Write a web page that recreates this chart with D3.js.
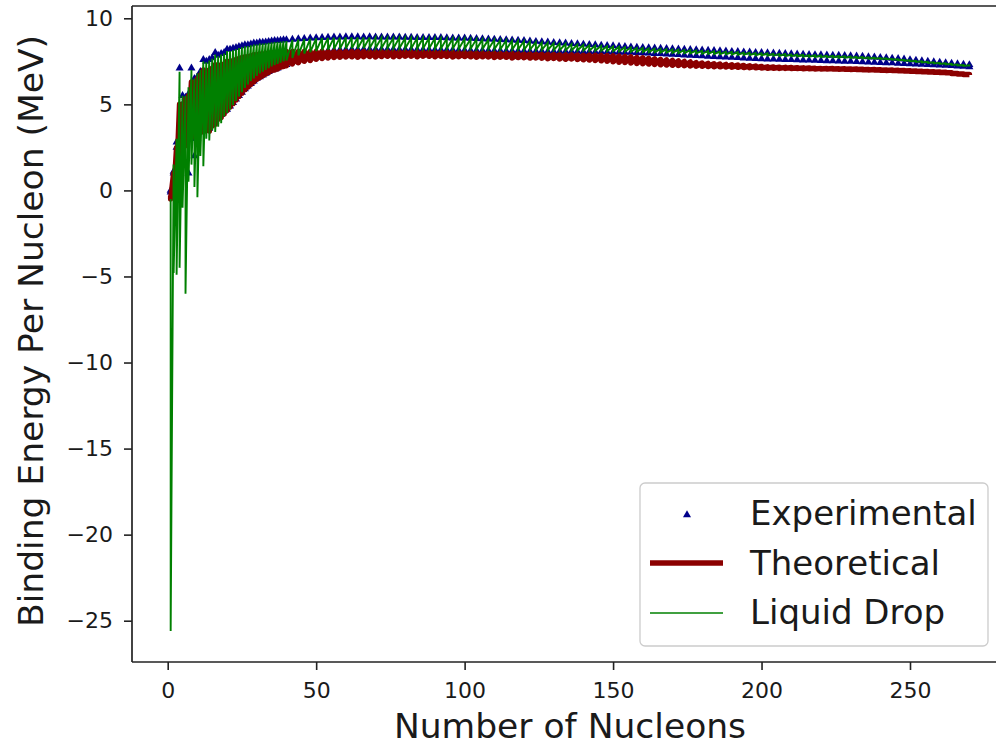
<!DOCTYPE html>
<html>
<head>
<meta charset="utf-8">
<script src="https://cdn.jsdelivr.net/npm/d3@7"></script>
<style>
  body { margin: 0; background: #ffffff; }
  svg { display: block; }
  text { font-family: "DejaVu Sans", sans-serif; fill: #1a1a1a; }
</style>
</head>
<body>
<div id="chart"></div>
<script>
// mass number A: every nucleon up to 40, then every second one
var massNumbers = [
  1, 2, 3, 4, 5, 6, 7, 8, 9, 10,
  11, 12, 13, 14, 15, 16, 17, 18, 19, 20,
  21, 22, 23, 24, 25, 26, 27, 28, 29, 30,
  31, 32, 33, 34, 35, 36, 37, 38, 39, 40,
  42, 44, 46, 48, 50, 52, 54, 56, 58, 60,
  62, 64, 66, 68, 70, 72, 74, 76, 78, 80,
  82, 84, 86, 88, 90, 92, 94, 96, 98, 100,
  102, 104, 106, 108, 110, 112, 114, 116, 118, 120,
  122, 124, 126, 128, 130, 132, 134, 136, 138, 140,
  142, 144, 146, 148, 150, 152, 154, 156, 158, 160,
  162, 164, 166, 168, 170, 172, 174, 176, 178, 180,
  182, 184, 186, 188, 190, 192, 194, 196, 198, 200,
  202, 204, 206, 208, 210, 212, 214, 216, 218, 220,
  222, 224, 226, 228, 230, 232, 234, 236, 238, 240,
  242, 244, 246, 248, 250, 252, 254, 256, 258, 260,
  262, 264, 266, 268, 270
];

// experimental BE/A (MeV), upper and lower edge of the nuclides at each A
var expHigh = [
  0.0, 1.1, 2.8, 7.1, 5.5, 5.4, 5.6, 7.1, 6.5, 6.6,
  6.9, 7.6, 7.5, 7.6, 7.7, 8.0, 7.85, 7.95, 8.0, 8.2,
  8.2, 8.25, 8.3, 8.35, 8.4, 8.45, 8.45, 8.5, 8.55, 8.55,
  8.6, 8.6, 8.62, 8.65, 8.67, 8.7, 8.7, 8.72, 8.74, 8.75,
  8.77, 8.8, 8.82, 8.84, 8.86, 8.88, 8.89, 8.9, 8.91, 8.92,
  8.92, 8.92, 8.91, 8.92, 8.91, 8.91, 8.9, 8.9, 8.9, 8.89,
  8.89, 8.88, 8.88, 8.88, 8.87, 8.87, 8.86, 8.85, 8.85, 8.84,
  8.83, 8.82, 8.8, 8.79, 8.78, 8.76, 8.75, 8.73, 8.72, 8.7,
  8.67, 8.65, 8.63, 8.61, 8.59, 8.57, 8.55, 8.53, 8.51, 8.49,
  8.47, 8.45, 8.43, 8.41, 8.39, 8.37, 8.35, 8.33, 8.31, 8.3,
  8.28, 8.27, 8.25, 8.24, 8.22, 8.21, 8.19, 8.18, 8.16, 8.15,
  8.13, 8.12, 8.1, 8.09, 8.07, 8.06, 8.04, 8.03, 8.01, 8.0,
  7.99, 7.97, 7.96, 7.95, 7.93, 7.92, 7.91, 7.89, 7.88, 7.87,
  7.86, 7.85, 7.84, 7.83, 7.81, 7.8, 7.78, 7.76, 7.74, 7.72,
  7.7, 7.67, 7.65, 7.62, 7.59, 7.56, 7.53, 7.5, 7.47, 7.44,
  7.41, 7.38, 7.35, 7.32, 7.3
];
var expLow = [
  -0.1, 1.0, 2.5, 1.5, 5.0, 3.5, 1.0, 3.0, 2.0, 3.0,
  3.8, 3.6, 3.8, 3.6, 3.9, 4.0, 4.3, 4.4, 4.6, 4.7,
  4.9, 5.1, 5.3, 5.5, 5.7, 5.9, 6.05, 6.2, 6.35, 6.5,
  6.6, 6.7, 6.8, 6.9, 7.0, 7.05, 7.1, 7.2, 7.25, 7.3,
  7.5, 7.65, 7.8, 7.9, 8.0, 8.08, 8.12, 8.15, 8.17, 8.18,
  8.19, 8.19, 8.2, 8.2, 8.2, 8.2, 8.2, 8.2, 8.19, 8.19,
  8.19, 8.18, 8.18, 8.18, 8.17, 8.17, 8.16, 8.16, 8.15, 8.15,
  8.14, 8.14, 8.13, 8.13, 8.12, 8.12, 8.11, 8.11, 8.1, 8.1,
  8.09, 8.09, 8.09, 8.08, 8.08, 8.08, 8.07, 8.07, 8.07, 8.06,
  8.06, 8.05, 8.05, 8.04, 8.03, 8.03, 8.02, 8.01, 8.0, 7.99,
  7.97, 7.95, 7.94, 7.92, 7.9, 7.88, 7.86, 7.84, 7.83, 7.81,
  7.79, 7.77, 7.76, 7.74, 7.72, 7.71, 7.69, 7.67, 7.66, 7.64,
  7.63, 7.62, 7.61, 7.6, 7.59, 7.58, 7.57, 7.56, 7.55, 7.54,
  7.53, 7.52, 7.51, 7.5, 7.49, 7.48, 7.46, 7.45, 7.44, 7.42,
  7.41, 7.4, 7.38, 7.37, 7.35, 7.34, 7.32, 7.31, 7.29, 7.27,
  7.26, 7.24, 7.22, 7.2, 7.18
];

// theoretical (semi-empirical with corrections)
var theoHigh = [
  -0.3, 1.0, 2.5, 5.0, 5.0, 5.3, 5.5, 6.3, 6.2, 6.5,
  6.7, 7.0, 6.9, 7.0, 7.1, 7.3, 7.2, 7.3, 7.35, 7.5,
  7.5, 7.55, 7.6, 7.67, 7.72, 7.77, 7.78, 7.83, 7.88, 7.88,
  7.93, 7.93, 7.95, 7.98, 8.0, 8.03, 8.03, 8.05, 8.07, 8.08,
  8.08, 8.08, 8.08, 8.07, 8.07, 8.07, 8.06, 8.06, 8.06, 8.06,
  8.06, 8.06, 8.06, 8.05, 8.05, 8.05, 8.05, 8.04, 8.04, 8.04,
  8.03, 8.03, 8.02, 8.02, 8.01, 8.01, 8.0, 8.0, 7.99, 7.99,
  7.98, 7.98, 7.97, 7.96, 7.96, 7.95, 7.94, 7.94, 7.93, 7.92,
  7.92, 7.91, 7.9, 7.9, 7.89, 7.88, 7.87, 7.87, 7.86, 7.85,
  7.86, 7.85, 7.84, 7.83, 7.82, 7.8, 7.78, 7.76, 7.73, 7.7,
  7.67, 7.64, 7.61, 7.58, 7.55, 7.52, 7.49, 7.46, 7.43, 7.4,
  7.38, 7.36, 7.34, 7.32, 7.3, 7.28, 7.26, 7.24, 7.22, 7.2,
  7.18, 7.17, 7.16, 7.15, 7.14, 7.13, 7.12, 7.11, 7.1, 7.09,
  7.08, 7.08, 7.07, 7.07, 7.06, 7.05, 7.04, 7.03, 7.02, 7.01,
  7.0, 6.99, 6.98, 6.97, 6.95, 6.94, 6.93, 6.91, 6.9, 6.88,
  6.86, 6.83, 6.8, 6.77, 6.74
];
var theoLow = [
  -0.5, -0.3, 0.6, 1.6, 2.4, 2.6, 3.1, 3.1, 3.3, 3.4,
  3.6, 3.4, 3.6, 3.45, 3.75, 3.85, 4.15, 4.25, 4.45, 4.65,
  4.85, 5.05, 5.25, 5.45, 5.65, 5.85, 6.0, 6.15, 6.3, 6.45,
  6.55, 6.65, 6.75, 6.85, 6.95, 7.0, 7.05, 7.15, 7.2, 7.25,
  7.35, 7.42, 7.5, 7.55, 7.62, 7.66, 7.7, 7.72, 7.73, 7.75,
  7.76, 7.74, 7.77, 7.78, 7.75, 7.78, 7.79, 7.76, 7.78, 7.8,
  7.79, 7.77, 7.8, 7.79, 7.76, 7.79, 7.78, 7.75, 7.77, 7.78,
  7.76, 7.74, 7.76, 7.75, 7.72, 7.74, 7.73, 7.7, 7.72, 7.71,
  7.69, 7.7, 7.68, 7.65, 7.67, 7.64, 7.62, 7.64, 7.61, 7.59,
  7.57, 7.55, 7.53, 7.5, 7.48, 7.45, 7.43, 7.4, 7.38, 7.36,
  7.34, 7.32, 7.3, 7.29, 7.27, 7.26, 7.24, 7.23, 7.22, 7.21,
  7.2, 7.19, 7.18, 7.17, 7.16, 7.15, 7.14, 7.13, 7.12, 7.11,
  7.1, 7.1, 7.09, 7.09, 7.08, 7.08, 7.07, 7.07, 7.06, 7.06,
  7.05, 7.05, 7.04, 7.04, 7.03, 7.02, 7.01, 7.0, 6.99, 6.98,
  6.97, 6.96, 6.95, 6.94, 6.92, 6.91, 6.9, 6.88, 6.87, 6.85,
  6.83, 6.8, 6.77, 6.74, 6.71
];

// liquid drop model
var dropHigh = [
  -0.5, 1.5, 3.0, 6.9, 5.5, 5.5, 6.0, 7.0, 6.5, 6.8,
  7.0, 7.5, 7.45, 7.55, 7.65, 7.9, 7.8, 7.9, 7.95, 8.1,
  8.1, 8.15, 8.2, 8.27, 8.32, 8.37, 8.38, 8.43, 8.48, 8.48,
  8.53, 8.53, 8.55, 8.58, 8.6, 8.63, 8.63, 8.65, 8.67, 8.68,
  8.74, 8.77, 8.79, 8.81, 8.83, 8.85, 8.86, 8.87, 8.88, 8.89,
  8.89, 8.89, 8.88, 8.89, 8.88, 8.88, 8.87, 8.87, 8.87, 8.86,
  8.86, 8.85, 8.85, 8.85, 8.84, 8.84, 8.83, 8.82, 8.82, 8.81,
  8.8, 8.79, 8.77, 8.76, 8.75, 8.73, 8.72, 8.7, 8.69, 8.67,
  8.64, 8.62, 8.6, 8.58, 8.56, 8.54, 8.52, 8.5, 8.48, 8.46,
  8.44, 8.42, 8.4, 8.38, 8.36, 8.34, 8.32, 8.3, 8.28, 8.27,
  8.25, 8.24, 8.22, 8.21, 8.19, 8.18, 8.16, 8.15, 8.13, 8.12,
  8.1, 8.09, 8.07, 8.06, 8.04, 8.03, 8.01, 8.0, 7.98, 7.97,
  7.96, 7.94, 7.93, 7.92, 7.9, 7.89, 7.88, 7.86, 7.85, 7.84,
  7.83, 7.82, 7.81, 7.8, 7.78, 7.77, 7.75, 7.73, 7.71, 7.69,
  7.67, 7.64, 7.62, 7.59, 7.56, 7.53, 7.5, 7.47, 7.44, 7.41,
  7.38, 7.35, 7.32, 7.29, 7.27
];
var dropLow = [
  -25.6, -4.8, -4.9, -4.5, -1.0, -6.0, 0.5, 1.5, 0.2, -0.4,
  2.0, 1.4, 3.0, 2.9, 3.5, 3.4, 3.7, 3.9, 4.3, 4.5,
  4.7, 4.95, 5.2, 5.45, 5.7, 5.95, 6.15, 6.35, 6.5, 6.65,
  6.8, 6.9, 7.0, 7.1, 7.2, 7.28, 7.35, 7.42, 7.5, 7.55,
  7.7, 7.85, 7.95, 8.03, 8.1, 8.15, 8.18, 8.21, 8.23, 8.24,
  8.25, 8.25, 8.26, 8.26, 8.26, 8.26, 8.26, 8.25, 8.25, 8.25,
  8.25, 8.24, 8.24, 8.24, 8.24, 8.23, 8.23, 8.23, 8.22, 8.22,
  8.22, 8.21, 8.21, 8.2, 8.2, 8.19, 8.19, 8.18, 8.18, 8.17,
  8.17, 8.16, 8.16, 8.15, 8.15, 8.14, 8.14, 8.13, 8.13, 8.12,
  8.12, 8.11, 8.11, 8.1, 8.09, 8.08, 8.07, 8.06, 8.05, 8.04,
  8.03, 8.02, 8.01, 8.0, 7.99, 7.98, 7.97, 7.96, 7.95, 7.94,
  7.93, 7.92, 7.91, 7.9, 7.89, 7.88, 7.87, 7.86, 7.85, 7.84,
  7.83, 7.82, 7.81, 7.8, 7.79, 7.78, 7.77, 7.76, 7.75, 7.74,
  7.73, 7.72, 7.71, 7.7, 7.69, 7.68, 7.67, 7.66, 7.65, 7.64,
  7.62, 7.59, 7.56, 7.53, 7.5, 7.47, 7.44, 7.41, 7.38, 7.35,
  7.32, 7.29, 7.26, 7.23, 7.2
];

var xTicks = [0, 50, 100, 150, 200, 250];
var yTicks = [-25, -20, -15, -10, -5, 0, 5, 10];
var seriesNames = ["Experimental", "Theoretical", "Liquid Drop"];

var W = 996, H = 748;
var plot = { left: 132, top: 6, right: 1010, bottom: 662 };

var svg = d3.select("#chart").append("svg")
    .attr("width", W)
    .attr("height", H);

var x = d3.scaleLinear().domain([0, 250]).range([167.7, 910]);
var y = d3.scaleLinear().domain([10, -25]).range([18.3, 620.7]);

svg.append("clipPath").attr("id", "plotClip")
  .append("rect")
    .attr("x", plot.left).attr("y", plot.top)
    .attr("width", plot.right - plot.left).attr("height", plot.bottom - plot.top);

var g = svg.append("g").attr("clip-path", "url(#plotClip)");

// nuclides of one A run top to bottom, then jump up to the next A
function zigzag(hi, lo) {
    var pts = [];
    massNumbers.forEach(function (a, i) {
        pts.push([a, hi[i]]);
        pts.push([a, lo[i]]);
    });
    return pts;
}

var line = d3.line().x(d => x(d[0])).y(d => y(d[1]));
var tri = d3.symbol().type(d3.symbolTriangle).size(28);

// experimental points
var expPts = [];
massNumbers.forEach(function (a, i) {
    expPts.push([a, expHigh[i]]);
    expPts.push([a, expLow[i]]);
});
g.selectAll(".exp")
  .data(expPts)
  .enter().append("path")
    .attr("class", "exp")
    .attr("d", tri)
    .attr("transform", d => "translate(" + x(d[0]) + "," + y(d[1]) + ")")
    .attr("fill", "#00008b");

g.append("path")
    .datum(zigzag(theoHigh, theoLow))
    .attr("d", line)
    .attr("fill", "none")
    .attr("stroke", "#8b0000")
    .attr("stroke-width", 5.5)
    .attr("stroke-linejoin", "round");

g.append("path")
    .datum(zigzag(dropHigh, dropLow))
    .attr("d", line)
    .attr("fill", "none")
    .attr("stroke", "#008000")
    .attr("stroke-width", 1.9);

// spines
svg.append("line").attr("x1", plot.left).attr("x2", plot.left)
    .attr("y1", plot.top).attr("y2", plot.bottom)
    .attr("stroke", "#222").attr("stroke-width", 1.7);
svg.append("line").attr("x1", plot.left).attr("x2", W)
    .attr("y1", plot.bottom).attr("y2", plot.bottom)
    .attr("stroke", "#222").attr("stroke-width", 1.7);
svg.append("line").attr("x1", plot.left).attr("x2", W)
    .attr("y1", plot.top).attr("y2", plot.top)
    .attr("stroke", "#222").attr("stroke-width", 1.7);

// axes
var xAxis = svg.append("g")
    .attr("transform", "translate(0," + plot.bottom + ")")
    .call(d3.axisBottom(x).tickValues(xTicks).tickSize(8).tickPadding(12).tickSizeOuter(0));
var yAxis = svg.append("g")
    .attr("transform", "translate(" + plot.left + ",0)")
    .call(d3.axisLeft(y).tickValues(yTicks).tickSize(8).tickPadding(11).tickSizeOuter(0));
[xAxis, yAxis].forEach(function (ax) {
    ax.select(".domain").remove();
    ax.selectAll(".tick line").attr("stroke", "#222").attr("stroke-width", 1.6);
    ax.selectAll(".tick text")
        .style("font-family", "'DejaVu Sans', sans-serif")
        .style("font-size", "22px")
        .attr("fill", "#1a1a1a");
});

svg.append("text")
    .attr("x", 570).attr("y", 738)
    .attr("text-anchor", "middle")
    .style("font-size", "34.5px")
    .text("Number of Nucleons");

svg.append("text")
    .attr("transform", "translate(43,331) rotate(-90)")
    .attr("text-anchor", "middle")
    .style("font-size", "34.5px")
    .text("Binding Energy Per Nucleon (MeV)");

// legend
var legend = svg.append("g");
legend.append("rect")
    .attr("x", 640).attr("y", 483)
    .attr("width", 348).attr("height", 163)
    .attr("rx", 5)
    .attr("fill", "#ffffff").attr("fill-opacity", 0.85)
    .attr("stroke", "#cccccc").attr("stroke-width", 1.3);

legend.append("path")
    .attr("d", tri)
    .attr("transform", "translate(687,515)")
    .attr("fill", "#00008b");
legend.append("line")
    .attr("x1", 650).attr("x2", 723).attr("y1", 563).attr("y2", 563)
    .attr("stroke", "#8b0000").attr("stroke-width", 5.5);
legend.append("line")
    .attr("x1", 650).attr("x2", 723).attr("y1", 613).attr("y2", 613)
    .attr("stroke", "#008000").attr("stroke-width", 1.5);

legend.selectAll(".lab")
  .data(seriesNames)
  .enter().append("text")
    .attr("class", "lab")
    .attr("x", 750)
    .attr("y", (d, i) => 525 + i * 49.5)
    .style("font-size", "34px")
    .text(d => d);
</script>
</body>
</html>
